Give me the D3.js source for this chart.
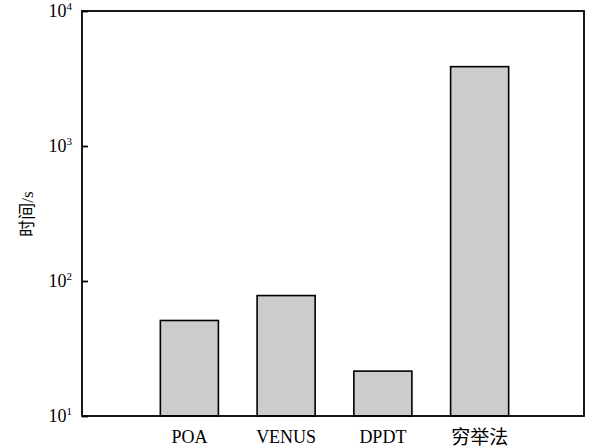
<!DOCTYPE html>
<html><head><meta charset="utf-8">
<script src="https://cdn.jsdelivr.net/npm/d3@7"></script>
<style>body{margin:0;background:#fff}svg{display:block}</style>
</head><body>
<script>
const categories = ["POA", "VENUS", "DPDT", "穷举法"];
const values = [51, 78, 21.5, 3870];
const tickValues = [10, 100, 1000, 10000];
const tickExponents = ["1", "2", "3", "4"];
const yLabel = "时间/s";

const W = 592, H = 448;
const L = 82, R = 584, T = 11, B = 416;
const svg = d3.select("body").append("svg").attr("width", W).attr("height", H);

const y = d3.scaleLog().domain([10, 10000]).range([B, T]);
const x = d3.scaleBand().domain(categories).range([141, 528]).paddingInner(0.4).paddingOuter(0.2);

const serif = "'Liberation Serif','Times New Roman',serif";

// bars
svg.selectAll("rect.bar").data(values).enter().append("rect")
  .attr("class", "bar")
  .attr("x", (d, i) => x(categories[i]))
  .attr("width", x.bandwidth())
  .attr("y", d => y(d))
  .attr("height", d => y(10) - y(d))
  .attr("fill", "#cccccc").attr("stroke", "#000").attr("stroke-width", 1.6);

// frame
svg.append("rect").attr("x", L).attr("y", T).attr("width", R - L).attr("height", B - T)
  .attr("fill", "none").attr("stroke", "#000").attr("stroke-width", 1.8);

// y axis ticks (inward)
const yAxis = d3.axisRight(y).tickValues(tickValues).tickSize(6).tickFormat("");
const ga = svg.append("g").attr("transform", `translate(${L},0)`).call(yAxis);
ga.select(".domain").remove();
ga.selectAll("line").attr("stroke", "#000").attr("stroke-width", 1.8);

// tick labels 10^n
tickValues.forEach((v, i) => {
  const t = svg.append("text").attr("x", L - 10).attr("y", y(v) + 6)
    .attr("text-anchor", "end").attr("font-family", serif).attr("font-size", 18).attr("fill", "#000");
  t.append("tspan").text("10");
  t.append("tspan").attr("dy", -7).attr("font-size", 11).text(tickExponents[i]);
});

// x category labels
const xAxis = d3.axisBottom(x).tickSize(0).tickPadding(0);
const gx = svg.append("g").attr("transform", `translate(0,${B})`).call(xAxis);
gx.select(".domain").remove();
gx.selectAll("text").attr("font-family", serif).attr("font-size", 18).attr("fill", "#000")
  .attr("dy", null).attr("y", 27)
  .filter(d => /[^\x00-\x7f]/.test(d)).attr("font-family", "'Noto Sans CJK SC',sans-serif").attr("font-size", 19).attr("y", 28);

// y label
svg.append("text").attr("transform", "translate(33,214) rotate(-90)")
  .attr("text-anchor", "middle").attr("font-size", 17).attr("fill", "#000")
  .attr("font-family", "'Liberation Serif','Noto Sans CJK SC',serif").text(yLabel);
</script>
</body></html>
